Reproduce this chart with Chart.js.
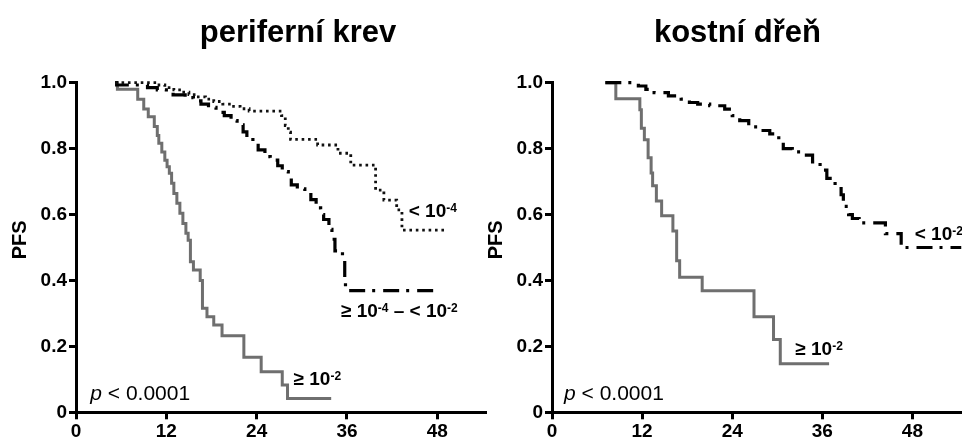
<!DOCTYPE html>
<html>
<head>
<meta charset="utf-8">
<script src="https://cdn.jsdelivr.net/npm/chart.js@4.4.1/dist/chart.umd.min.js"></script>
<style>
  html, body { margin: 0; padding: 0; background: #fff; }
  #wrap { position: relative; width: 962px; height: 441px; overflow: hidden; }
  #c1 { position: absolute; left: 0; top: 0; }
  #c2 { position: absolute; left: 481px; top: 0; }
</style>
</head>
<body>
<div id="wrap">
  <canvas id="c1" width="487" height="441" style="width:487px;height:441px"></canvas>
  <canvas id="c2" width="481" height="441" style="width:481px;height:441px"></canvas>
</div>
<script>
// ---------------- DATA ----------------
const titles = ['periferní krev', 'kostní dřeň'];
const yAxisTitle = 'PFS';
const xTicks = [0, 12, 24, 36, 48];
const yTicks = [0, 0.2, 0.4, 0.6, 0.8, 1.0];

// Peripheral blood: < 10^-4 (dotted)
const pbLowT = [5.2, 10.8, 11.8, 13.0, 14.0, 15.0, 16.0, 17.2, 18.3, 19.5, 20.6, 21.8, 23.0, 27.3, 27.8, 28.2, 28.5, 32.1, 34.8, 36.5, 39.8, 40.9, 42.6, 43.3, 49.2];
const pbLowS = [1.0, 0.993, 0.985, 0.978, 0.971, 0.964, 0.957, 0.950, 0.943, 0.935, 0.928, 0.921, 0.914, 0.900, 0.870, 0.850, 0.828, 0.811, 0.786, 0.750, 0.674, 0.644, 0.614, 0.553, 0.553];

// Peripheral blood: >= 10^-4 - < 10^-2 (dash-dot)
const pbMidT = [5.2, 5.4, 9.5, 10.8, 12.0, 12.9, 14.5, 15.6, 16.6, 17.6, 18.6, 19.7, 20.6, 21.4, 22.2, 22.7, 23.5, 24.2, 25.1, 25.8, 26.8, 27.4, 28.2, 28.6, 29.4, 30.4, 31.2, 31.9, 32.5, 32.9, 33.6, 34.0, 34.4, 35.4, 35.7, 35.8, 47.9];
const pbMidS = [1.0, 0.993, 0.985, 0.978, 0.970, 0.963, 0.955, 0.945, 0.935, 0.925, 0.910, 0.900, 0.885, 0.872, 0.851, 0.835, 0.815, 0.796, 0.776, 0.765, 0.748, 0.730, 0.710, 0.690, 0.678, 0.668, 0.645, 0.620, 0.600, 0.585, 0.555, 0.525, 0.490, 0.460, 0.410, 0.369, 0.369];

// Peripheral blood: >= 10^-2 (grey solid)
const pbHighT = [5.2, 5.5, 8.2, 9.0, 9.6, 10.4, 10.8, 11.0, 11.4, 11.8, 12.1, 12.4, 12.7, 13.0, 13.4, 13.8, 14.2, 14.6, 14.9, 15.2, 15.6, 16.5, 16.8, 17.4, 18.3, 19.4, 22.3, 24.6, 27.4, 28.1, 33.9];
const pbHighS = [1.0, 0.980, 0.950, 0.920, 0.897, 0.867, 0.840, 0.816, 0.790, 0.765, 0.745, 0.725, 0.695, 0.664, 0.634, 0.604, 0.573, 0.543, 0.522, 0.457, 0.432, 0.400, 0.316, 0.290, 0.265, 0.232, 0.167, 0.123, 0.083, 0.042, 0.042];

// Bone marrow: < 10^-2 (dash-dot)
const bmLowT = [7.1, 11.5, 12.5, 13.6, 15.5, 17.2, 18.3, 19.4, 21.0, 23.0, 24.0, 25.0, 26.2, 27.7, 29.0, 30.2, 30.8, 32.0, 33.2, 34.7, 35.7, 36.6, 37.7, 38.5, 38.8, 39.5, 40.0, 40.9, 44.4, 46.5, 54.5];
const bmLowS = [1.0, 0.990, 0.980, 0.970, 0.960, 0.950, 0.940, 0.935, 0.930, 0.920, 0.900, 0.885, 0.866, 0.855, 0.845, 0.820, 0.800, 0.790, 0.780, 0.760, 0.735, 0.710, 0.685, 0.660, 0.625, 0.600, 0.588, 0.575, 0.542, 0.500, 0.500];

// Bone marrow: >= 10^-2 (grey solid)
const bmHighT = [7.1, 8.5, 11.7, 11.9, 12.3, 12.8, 13.2, 13.4, 13.9, 14.6, 16.1, 16.6, 17.0, 20.0, 26.9, 29.5, 30.4, 36.9];
const bmHighS = [1.0, 0.951, 0.918, 0.862, 0.827, 0.772, 0.726, 0.687, 0.641, 0.596, 0.550, 0.460, 0.410, 0.369, 0.290, 0.221, 0.147, 0.147];

// curve labels: alternating normal text / superscript
const pbLabels = [['< 10', '-4'], ['≥ 10', '-4', ' – < 10', '-2'], ['≥ 10', '-2']];
const bmLabels = [['< 10', '-2'], ['≥ 10', '-2']];
const pText = ['p', ' < 0.0001'];

// ---------------- STYLE / DRAWING ----------------
const FONT = "'Liberation Sans', Arial, Helvetica, sans-serif";
const STYLES = {
  dotted:  { borderColor: '#111', borderWidth: 2.8, borderDash: [2.6, 3.8] },
  dashdot: { borderColor: '#000', borderWidth: 3.2, borderDash: [16, 7, 3, 8] },
  grey:    { borderColor: '#6f6f6f', borderWidth: 3, borderDash: [] }
};

function dataset(t, s, style) {
  return Object.assign({
    data: t.map((v, i) => ({ x: v, y: s[i] })),
    stepped: 'before', pointRadius: 0, pointHoverRadius: 0, fill: false,
    clip: false, borderCapStyle: 'butt', borderJoinStyle: 'miter', tension: 0
  }, style);
}

function drawParts(ctx, x, y, parts, size, supSize, weight) {
  let cx = x;
  parts.forEach((txt, i) => {
    const sup = i % 2 === 1;
    ctx.font = `${weight} ${sup ? supSize : size}px ${FONT}`;
    ctx.fillText(txt, cx, y - (sup ? size * 0.27 : 0));
    cx += ctx.measureText(txt).width;
  });
}

const textPlugin = {
  id: 'texts',
  afterDraw(chart, args, o) {
    const ctx = chart.ctx, xs = chart.scales.x, ys = chart.scales.y, ca = chart.chartArea;
    ctx.save();
    ctx.fillStyle = '#000';
    ctx.textBaseline = 'alphabetic';
    // title
    ctx.textAlign = 'center';
    ctx.font = `bold 31px ${FONT}`;
    ctx.fillText(o.title, xs.getPixelForValue(o.titleAt), 42);
    // y title
    ctx.save();
    ctx.translate(ca.left - 56, ys.getPixelForValue(0.523));
    ctx.rotate(-Math.PI / 2);
    ctx.font = `bold 20px ${FONT}`;
    ctx.textBaseline = 'middle';
    ctx.fillText(yAxisTitle, 0, 0);
    ctx.restore();
    // curve labels
    ctx.textAlign = 'left';
    o.labels.forEach(l => {
      drawParts(ctx, xs.getPixelForValue(l.at[0]), ys.getPixelForValue(l.at[1]), l.parts, 19, 12, 'bold');
    });
    // p value
    const px = xs.getPixelForValue(o.pAt[0]), py = ys.getPixelForValue(o.pAt[1]);
    ctx.font = `italic 21px ${FONT}`;
    ctx.fillText(pText[0], px, py);
    const w = ctx.measureText(pText[0]).width;
    ctx.font = `21px ${FONT}`;
    ctx.fillText(pText[1], px + w, py);
    ctx.restore();
  }
};

function makeChart(id, datasets, axisWidth, opts) {
  const tickFont = { family: FONT, size: 19, weight: 'bold' };
  return new Chart(document.getElementById(id), {
    type: 'line',
    data: { datasets },
    plugins: [textPlugin],
    options: {
      responsive: false,
      animation: false,
      events: [],
      layout: { padding: { top: 82.7, right: 0, bottom: 0, left: 0 } },
      plugins: { legend: { display: false }, tooltip: { enabled: false }, texts: opts },
      scales: {
        x: {
          type: 'linear', min: 0, max: 54.6,
          afterBuildTicks: s => { s.ticks = xTicks.map(v => ({ value: v })); },
          afterFit: s => { s.height = 441 - 412.3; },
          ticks: { font: tickFont, color: '#000', padding: 1, maxRotation: 0, autoSkip: false },
          grid: { drawOnChartArea: false, drawTicks: true, tickLength: 7, tickWidth: 3, tickColor: '#000' },
          border: { display: true, color: '#000', width: 3 }
        },
        y: {
          type: 'linear', min: 0, max: 1.0,
          afterBuildTicks: s => { s.ticks = yTicks.map(v => ({ value: v })); },
          afterFit: s => { s.width = axisWidth; },
          ticks: { font: tickFont, color: '#000', padding: 2,
                   callback: v => (v === 0 ? '0' : v.toFixed(1)) },
          grid: { drawOnChartArea: false, drawTicks: true, tickLength: 7, tickWidth: 3, tickColor: '#000' },
          border: { display: true, color: '#000', width: 3 }
        }
      }
    }
  });
}

makeChart('c1', [
  dataset(pbLowT, pbLowS, STYLES.dotted),
  dataset(pbMidT, pbMidS, STYLES.dashdot),
  dataset(pbHighT, pbHighS, STYLES.grey)
], 76, {
  title: titles[0], titleAt: 29.5,
  labels: [
    { parts: pbLabels[0], at: [44.2, 0.593] },
    { parts: pbLabels[1], at: [35.2, 0.289] },
    { parts: pbLabels[2], at: [28.9, 0.083] }
  ],
  pAt: [1.9, 0.037]
});

makeChart('c2', [
  dataset(bmLowT, bmLowS, STYLES.dashdot),
  dataset(bmHighT, bmHighS, STYLES.grey)
], 71, {
  title: titles[1], titleAt: 24.7,
  labels: [
    { parts: bmLabels[0], at: [48.3, 0.523] },
    { parts: bmLabels[1], at: [32.4, 0.174] }
  ],
  pAt: [1.6, 0.037]
});
</script>
</body>
</html>
